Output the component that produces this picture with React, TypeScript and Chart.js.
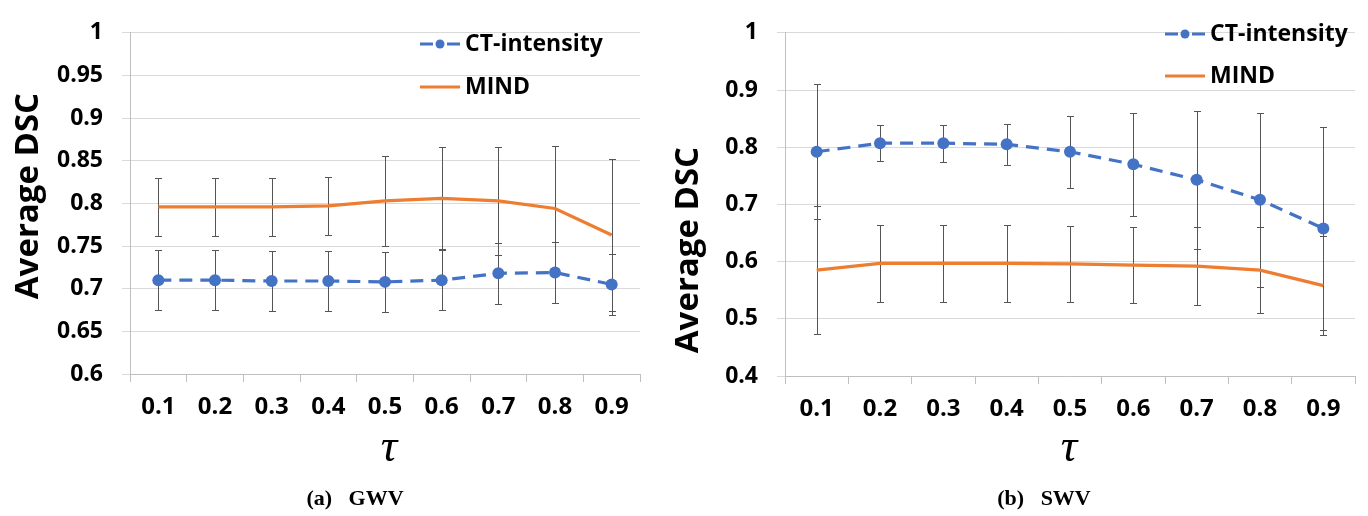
import React, { useEffect, useRef } from 'react';
import { Chart, registerables } from 'chart.js';

Chart.register(...registerables);

// ---- Data ----
const tauLabels = ['0.1', '0.2', '0.3', '0.4', '0.5', '0.6', '0.7', '0.8', '0.9'];

// (a) GWV
const gwvCT = [0.710, 0.710, 0.709, 0.709, 0.708, 0.710, 0.718, 0.719, 0.705];
const gwvCTErr = [0.035, 0.035, 0.035, 0.0355, 0.0355, 0.0355, 0.036, 0.036, 0.0355];
const gwvMIND = [0.796, 0.796, 0.796, 0.797, 0.803, 0.806, 0.803, 0.794, 0.763];
const gwvMINDErr = [0.034, 0.034, 0.034, 0.0345, 0.053, 0.060, 0.063, 0.073, 0.089];

// (b) SWV
const swvCT = [0.792, 0.807, 0.807, 0.805, 0.792, 0.770, 0.743, 0.708, 0.658];
const swvCTErr = [0.118, 0.031, 0.032, 0.036, 0.063, 0.090, 0.121, 0.152, 0.177];
const swvMIND = [0.585, 0.597, 0.597, 0.597, 0.596, 0.594, 0.592, 0.585, 0.558];
const swvMINDErr = [0.112, 0.067, 0.067, 0.067, 0.067, 0.067, 0.068, 0.075, 0.086];

const seriesNames = ['CT-intensity', 'MIND'];
const yTitle = 'Average DSC';
const xTitle = 'τ';
const captions = ['(a)   GWV', '(b)   SWV'];

// ---- Styles ----
const BLUE = '#4472C4';
const ORANGE = '#ED7D31';
const SANS = "'Open Sans', 'Liberation Sans', sans-serif";
const SERIF = "'Liberation Serif', 'DejaVu Serif', serif";
const H = 516;

const decorPlugin = {
  id: 'decor',
  beforeDatasetsDraw(chart: any) {
    const ctx = chart.ctx;
    const ys = chart.scales.y;
    ctx.save();
    ctx.strokeStyle = '#555555';
    ctx.lineWidth = 1;
    chart.data.datasets.forEach((ds: any, di: number) => {
      const meta = chart.getDatasetMeta(di);
      meta.data.forEach((pt: any, i: number) => {
        const v = ds.data[i];
        const e = ds.errors[i];
        const x = Math.round(pt.x) + 0.5;
        const yt = Math.round(ys.getPixelForValue(v + e)) + 0.5;
        const yb = Math.round(ys.getPixelForValue(v - e)) + 0.5;
        ctx.beginPath();
        ctx.moveTo(x, yt);
        ctx.lineTo(x, yb);
        ctx.moveTo(x - 3.5, yt);
        ctx.lineTo(x + 3.5, yt);
        ctx.moveTo(x - 3.5, yb);
        ctx.lineTo(x + 3.5, yb);
        ctx.stroke();
      });
    });
    ctx.restore();
  },
  afterDraw(chart: any, _a: any, o: any) {
    const ctx = chart.ctx;
    ctx.save();
    // legend
    chart.data.datasets.forEach((ds: any, i: number) => {
      const ly = o.legendY[i];
      const lx = o.legendX;
      ctx.strokeStyle = ds.borderColor;
      ctx.lineWidth = 3;
      ctx.lineCap = 'butt';
      if (ds.borderDash && ds.borderDash.length) ctx.setLineDash([13, 14]);
      else ctx.setLineDash([]);
      ctx.beginPath();
      ctx.moveTo(lx, ly);
      ctx.lineTo(lx + 40, ly);
      ctx.stroke();
      ctx.setLineDash([]);
      if (ds.pointRadius > 0) {
        ctx.fillStyle = ds.borderColor;
        ctx.beginPath();
        ctx.arc(lx + 20, ly, 4.5, 0, Math.PI * 2);
        ctx.fill();
      }
      ctx.fillStyle = '#000';
      ctx.font = `bold 23px ${SANS}`;
      ctx.textAlign = 'left';
      ctx.textBaseline = 'middle';
      ctx.fillText(ds.label, lx + 45, ly);
    });
    // y title
    ctx.save();
    ctx.translate(o.yTitleX, o.yTitleY);
    ctx.rotate(-Math.PI / 2);
    ctx.font = `bold 33px ${SANS}`;
    ctx.fillStyle = '#000';
    ctx.textAlign = 'center';
    ctx.textBaseline = 'alphabetic';
    ctx.fillText(yTitle, 0, 0);
    ctx.restore();
    // tau
    ctx.font = `italic 46px ${SERIF}`;
    ctx.fillStyle = '#000';
    ctx.textAlign = 'center';
    ctx.textBaseline = 'alphabetic';
    ctx.fillText(xTitle, o.tauX, 461);
    // caption
    ctx.font = `bold 22px ${SERIF}`;
    ctx.fillText(o.caption, o.captionX, 505);
    ctx.restore();
  },
};

function buildConfig(p: any): any {
  return {
    type: 'line',
    data: {
      labels: tauLabels,
      datasets: [
        {
          label: seriesNames[0],
          data: p.ct,
          errors: p.ctErr,
          borderColor: BLUE,
          backgroundColor: BLUE,
          borderWidth: 3.2,
          borderDash: [13, 8],
          borderCapStyle: 'butt',
          pointRadius: 6,
          pointBackgroundColor: BLUE,
          pointBorderWidth: 0,
          tension: 0,
        },
        {
          label: seriesNames[1],
          data: p.mind,
          errors: p.mindErr,
          borderColor: ORANGE,
          backgroundColor: ORANGE,
          borderWidth: 3.2,
          pointRadius: 0,
          tension: 0,
        },
      ],
    },
    options: {
      responsive: false,
      animation: false,
      devicePixelRatio: 1,
      layout: { padding: { top: p.padTop, right: p.padRight, left: 0, bottom: 0 } },
      plugins: {
        legend: { display: false },
        tooltip: { enabled: false },
        decor: {
          legendX: p.legendX,
          legendY: p.legendY,
          yTitleX: p.yTitleX,
          yTitleY: p.yTitleY,
          tauX: p.tauX,
          captionX: p.captionX,
          caption: p.caption,
        },
      },
      scales: {
        x: {
          type: 'category',
          offset: true,
          afterFit: (s: any) => {
            s.height = p.xHeight;
          },
          grid: {
            offset: true,
            drawOnChartArea: false,
            drawTicks: true,
            tickLength: 8,
            color: '#bfbfbf',
          },
          border: { display: true, color: '#bfbfbf', width: 1 },
          ticks: {
            padding: 11,
            color: '#000',
            maxRotation: 0,
            autoSkip: false,
            font: { family: SANS, size: 24, weight: 'bold' },
          },
        },
        y: {
          min: p.yMin,
          max: p.yMax,
          afterFit: (s: any) => {
            s.width = p.yWidth;
          },
          grid: { color: '#d9d9d9', lineWidth: 1, drawTicks: true, tickLength: 8, tickColor: '#d9d9d9' },
          border: { display: true, color: '#bfbfbf', width: 1 },
          ticks: {
            stepSize: p.step,
            padding: 19,
            color: '#000',
            font: { family: SANS, size: 23, weight: 'bold' },
            callback: (v: number) => String(Number(Number(v).toFixed(2))),
          },
        },
      },
    },
    plugins: [decorPlugin],
  };
}

const panels = [
  {
    left: 0,
    width: 660,
    ct: gwvCT,
    ctErr: gwvCTErr,
    mind: gwvMIND,
    mindErr: gwvMINDErr,
    yMin: 0.6,
    yMax: 1,
    step: 0.05,
    padTop: 19,
    padRight: 20,
    yWidth: 130,
    xHeight: 142,
    legendX: 420,
    legendY: [44, 87],
    yTitleX: 38,
    yTitleY: 196,
    tauX: 389,
    captionX: 355,
    caption: captions[0],
  },
  {
    left: 650,
    width: 718,
    ct: swvCT,
    ctErr: swvCTErr,
    mind: swvMIND,
    mindErr: swvMINDErr,
    yMin: 0.4,
    yMax: 1,
    step: 0.1,
    padTop: 25,
    padRight: 13,
    yWidth: 135,
    xHeight: 140,
    legendX: 515,
    legendY: [34, 76],
    yTitleX: 48,
    yTitleY: 250,
    tauX: 419,
    captionX: 394,
    caption: captions[1],
  },
];

function Panel({ p }: { p: any }) {
  const ref = useRef<HTMLCanvasElement>(null);
  useEffect(() => {
    const chart = new Chart(ref.current as HTMLCanvasElement, buildConfig(p));
    return () => chart.destroy();
  }, []);
  return (
    <canvas
      ref={ref}
      width={p.width}
      height={H}
      style={{ position: 'absolute', left: p.left, top: 0, width: p.width, height: H }}
    />
  );
}

export default function App() {
  return (
    <div style={{ position: 'fixed', left: 0, top: 0, width: 1368, height: H, background: '#fff' }}>
      {panels.map((p, i) => (
        <Panel key={i} p={p} />
      ))}
    </div>
  );
}
